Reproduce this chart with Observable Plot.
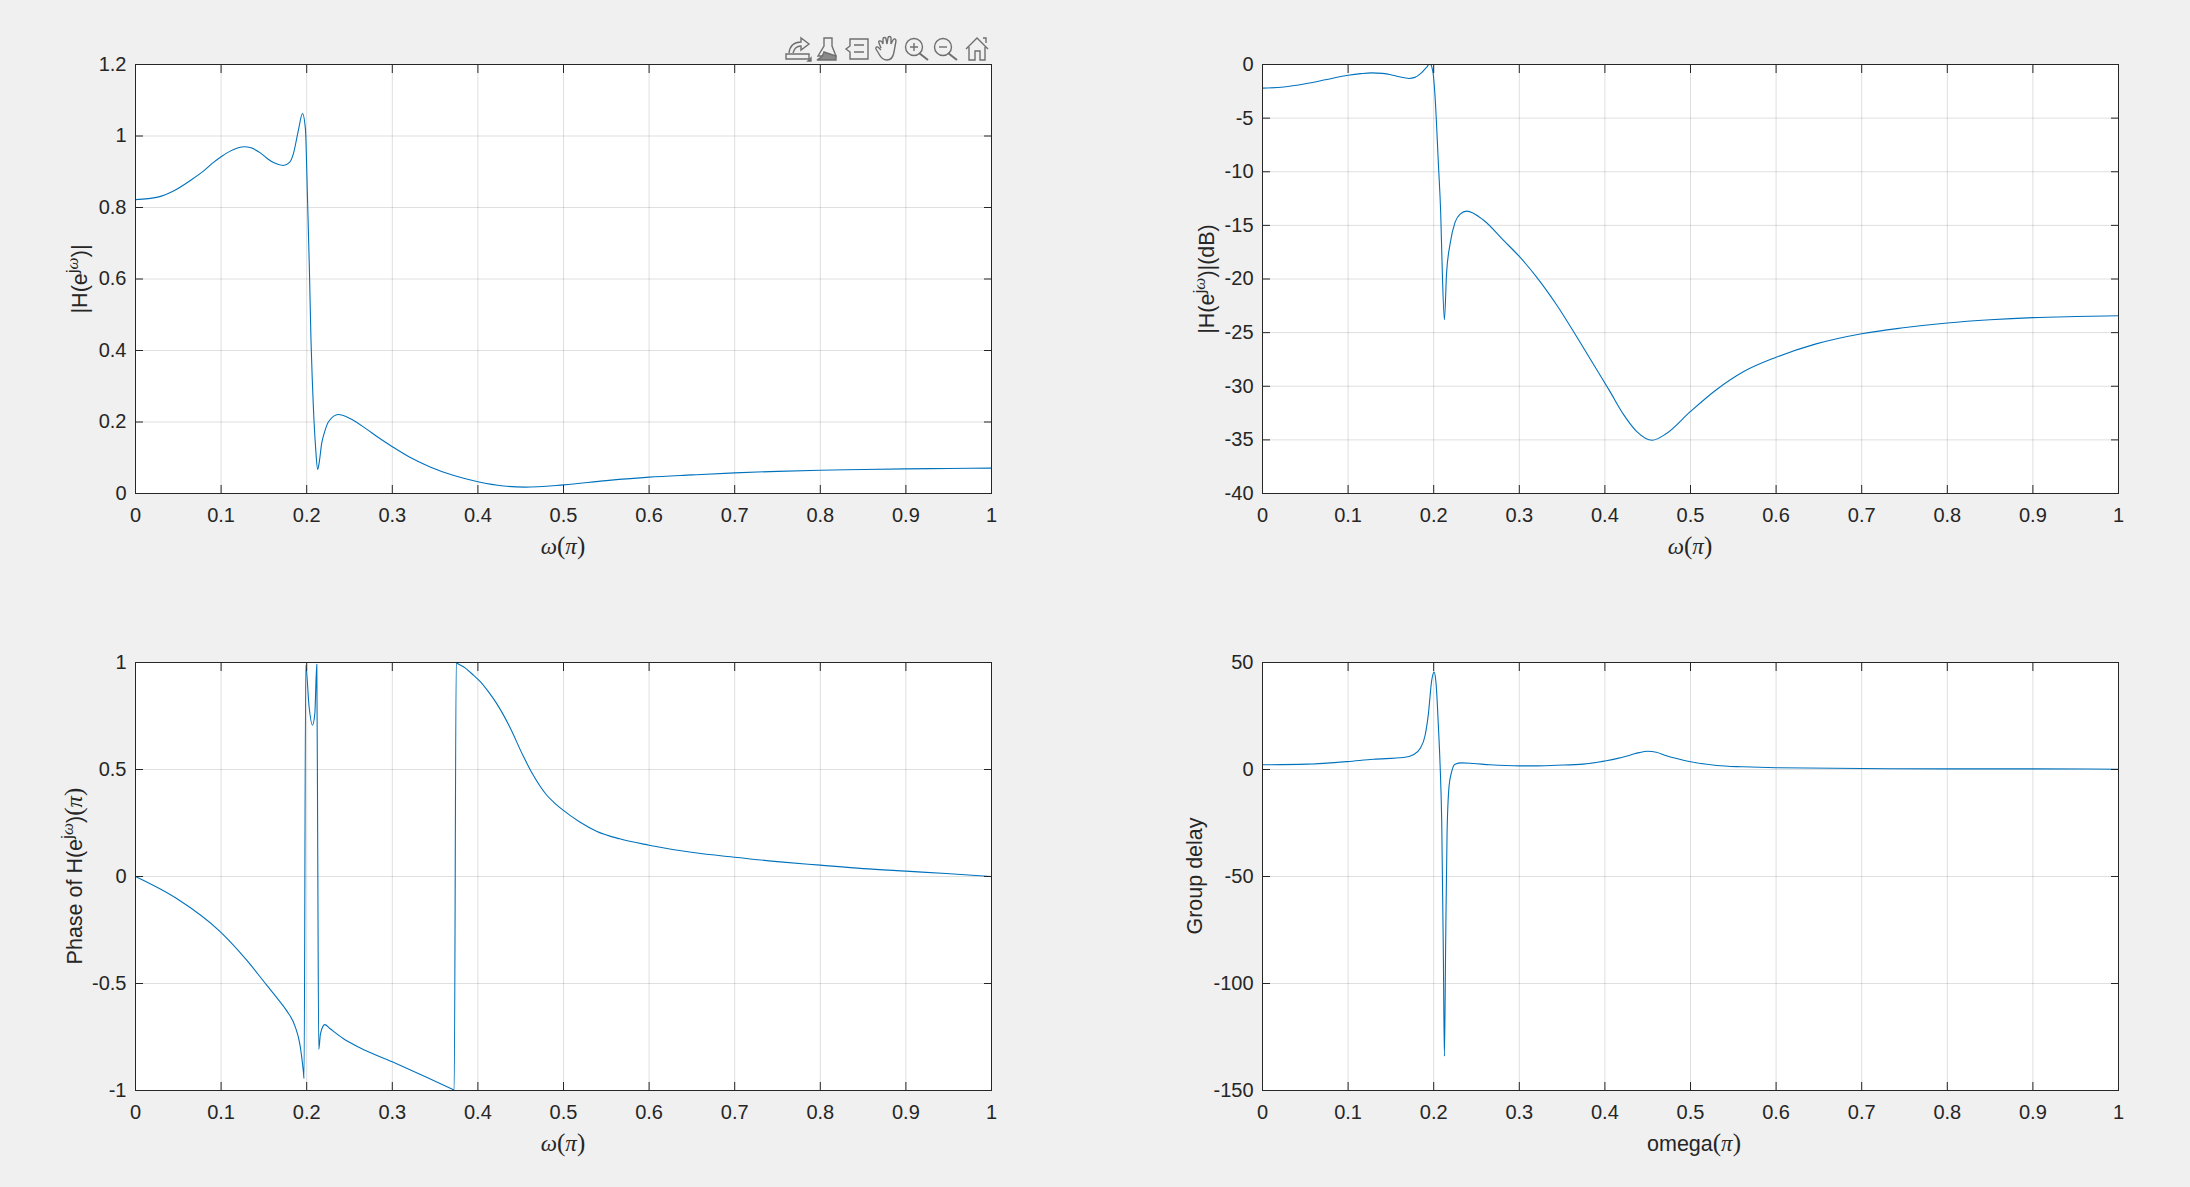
<!DOCTYPE html>
<html>
<head>
<meta charset="utf-8">
<script src="https://cdn.jsdelivr.net/npm/d3@7"></script>
<script src="https://cdn.jsdelivr.net/npm/@observablehq/plot@0.6"></script>
<style>
html,body{margin:0;padding:0;background:#f0f0f0;width:2190px;height:1187px;overflow:hidden}
#page{position:relative;width:2190px;height:1187px;font-family:"Liberation Sans",Arial,sans-serif;color:#262626}
.lab{position:absolute;white-space:nowrap;font-size:21.5px;line-height:1}
.lab.v{transform:translate(-50%,-50%) rotate(-90deg)}
.lab.h{transform:translate(-50%,-50%)}
.m{font-family:"Liberation Serif",serif;font-style:italic;font-size:23px}
.p{font-family:"Liberation Serif",serif;font-size:25px}
sup{font-size:.8em;line-height:0;vertical-align:baseline;position:relative;top:-.55em}
#tools{position:absolute;left:780px;top:32px}
</style>
</head>
<body>
<div id="page"></div>
<script>
const xTicks = [0,0.1,0.2,0.3,0.4,0.5,0.6,0.7,0.8,0.9,1];
const magTicks = [0,0.2,0.4,0.6,0.8,1,1.2];
const dbTicks = [-40,-35,-30,-25,-20,-15,-10,-5,0];
const phaseTicks = [-1,-0.5,0,0.5,1];
const delayTicks = [-150,-100,-50,0,50];

const magX = [0,0.026,0.0455,0.065,0.08,0.09,0.1,0.11,0.12,0.1268,0.135,0.1463,0.155,0.1619,0.1727,0.18,0.1844,0.1902,0.1951,0.1985,0.2007,0.2031,0.205,0.2065,0.2078,0.2105,0.2128,0.2145,0.2175,0.2214,0.2253,0.237,0.2506,0.27,0.2816,0.3,0.32,0.3435,0.371,0.4,0.43,0.455,0.5,0.55,0.6,0.65,0.7,0.75,0.8,0.85,0.9,0.95,1];
const magY = [0.822,0.829,0.8475,0.877,0.903,0.924,0.942,0.957,0.967,0.97,0.967,0.952,0.935,0.925,0.9175,0.926,0.95,1.015,1.063,1.02,0.847,0.633,0.43,0.32,0.241,0.125,0.067,0.085,0.14,0.176,0.2,0.221,0.21,0.18,0.16,0.131,0.102,0.075,0.051,0.033,0.021,0.0177,0.0242,0.036,0.0457,0.052,0.0578,0.062,0.065,0.067,0.069,0.07,0.071];

const dbX = [0,0.025,0.05,0.075,0.1,0.115,0.1275,0.14,0.15,0.16,0.171,0.178,0.1846,0.19,0.1938,0.1952,0.197,0.1996,0.2016,0.2055,0.2082,0.2101,0.2125,0.215,0.2192,0.225,0.2309,0.2386,0.258,0.2816,0.3,0.32,0.3435,0.371,0.39,0.406,0.4215,0.437,0.4553,0.472,0.5,0.5306,0.5617,0.6,0.6467,0.7,0.7486,0.8,0.85,0.9,0.95,1];
const dbY = [-2.2,-2.1,-1.8,-1.4,-1.0,-0.85,-0.78,-0.83,-0.95,-1.15,-1.3,-1.2,-0.85,-0.4,0,0.5,0,-1,-3,-9.3,-13.9,-19.5,-23.8,-19.5,-16.7,-14.7,-13.95,-13.67,-14.5,-16.4,-17.9,-19.8,-22.4,-25.9,-28.4,-30.5,-32.6,-34.2,-35.03,-34.4,-32.35,-30.3,-28.65,-27.3,-26.05,-25.1,-24.55,-24.1,-23.8,-23.6,-23.5,-23.43];

const phaseX = [0,0.0481,0.0992,0.1299,0.1533,0.165,0.1767,0.1864,0.1923,0.1962,0.1969,0.1989,0.2028,0.2067,0.2095,0.2118,0.2128,0.2141,0.2161,0.2212,0.227,0.2426,0.2621,0.3,0.34,0.3715,0.3723,0.3747,0.3755,0.385,0.395,0.4025,0.412,0.422,0.4371,0.4527,0.4644,0.48,0.49,0.4995,0.519,0.5385,0.5657,0.6,0.6514,0.7,0.753,0.8,0.85,0.9,0.947,1];
const phaseY = [0,-0.103,-0.2586,-0.391,-0.508,-0.566,-0.628,-0.7,-0.79,-0.915,-0.944,0.9875,0.793,0.707,0.762,0.992,0.2,-0.808,-0.734,-0.692,-0.71,-0.757,-0.8,-0.866,-0.938,-0.9965,-0.998,1,0.9975,0.975,0.94,0.912,0.865,0.808,0.7,0.565,0.475,0.382,0.342,0.31,0.255,0.212,0.176,0.1464,0.112,0.09,0.0685,0.053,0.037,0.025,0.014,0];

const delayX = [0,0.0518,0.0992,0.1296,0.1646,0.1763,0.1841,0.19,0.1938,0.1977,0.2004,0.2028,0.2055,0.2074,0.2094,0.2113,0.2125,0.214,0.2156,0.2179,0.221,0.2249,0.2327,0.2463,0.2658,0.3004,0.3164,0.3436,0.3748,0.4,0.415,0.43,0.44,0.45,0.46,0.47,0.485,0.5,0.5306,0.5617,0.6,0.7,0.8,0.9,1];
const delayY = [2.2,2.5,3.7,4.8,5.6,6.9,9.8,16,26,41.7,45.5,40,20,2.8,-25,-87.5,-134,-80,-30,-8,-1,2.5,3.1,2.8,2.2,1.7,1.7,2,2.5,4,5.2,6.8,7.9,8.5,8.1,6.7,5,3.6,1.9,1.25,0.8,0.45,0.3,0.3,0.15];

const ink = "#262626", lineColor = "#0072BD", fontPx = 20;
const page = document.getElementById("page");

function panel(xs, ys, yDomain, yTicks, left, top, right, bottom) {
  const pad = {l: 110, r: 40, t: 24, b: 54};
  const innerW = right - left, innerH = bottom - top;
  const fmt = d => String(d);
  const svg = Plot.plot({
    width: innerW + pad.l + pad.r,
    height: innerH + pad.t + pad.b,
    marginLeft: pad.l, marginRight: pad.r, marginTop: pad.t, marginBottom: pad.b,
    x: {domain: [0, 1], ticks: xTicks, label: null},
    y: {domain: yDomain, ticks: yTicks, label: null},
    style: {background: "transparent", color: ink, fontFamily: '"Liberation Sans",Arial,sans-serif', fontSize: fontPx + "px", overflow: "visible"},
    marks: [
      () => {
        const r = document.createElementNS("http://www.w3.org/2000/svg", "rect");
        r.setAttribute("x", pad.l + 0.5); r.setAttribute("y", pad.t + 0.5);
        r.setAttribute("width", innerW); r.setAttribute("height", innerH);
        r.setAttribute("fill", "#fff");
        return r;
      },
      Plot.gridX(xTicks.slice(1, -1), {stroke: ink, strokeOpacity: 0.15, strokeWidth: 1}),
      Plot.gridY(yTicks, {stroke: ink, strokeOpacity: 0.15, strokeWidth: 1}),
      Plot.line(ys, {x: xs, y: ys, stroke: lineColor, strokeWidth: 1.1, curve: "monotone-x", clip: true}),
      Plot.axisX({anchor: "bottom", ticks: xTicks, tickSize: -8, tickPadding: 0, tickFormat: () => "", label: null, stroke: ink}),
      Plot.axisX({anchor: "top", ticks: xTicks, tickSize: -8, tickPadding: 0, tickFormat: () => "", label: null, stroke: ink}),
      Plot.axisY({anchor: "left", ticks: yTicks, tickSize: -8, tickPadding: 0, tickFormat: () => "", label: null, stroke: ink}),
      Plot.axisY({anchor: "right", ticks: yTicks, tickSize: -8, tickPadding: 0, tickFormat: () => "", label: null, stroke: ink}),
      Plot.axisX({anchor: "bottom", ticks: xTicks, tickSize: 0, tickPadding: 14, tickFormat: fmt, label: null, fill: ink}),
      Plot.axisY({anchor: "left", ticks: yTicks, tickSize: 0, tickPadding: 9, tickFormat: fmt, label: null, fill: ink}),
      Plot.frame({stroke: ink, strokeWidth: 1})
    ]
  });
  svg.style.position = "absolute";
  svg.style.left = (left - pad.l) + "px";
  svg.style.top = (top - pad.t) + "px";
  page.appendChild(svg);
}

function label(html, x, y, vertical) {
  const d = document.createElement("div");
  d.className = "lab " + (vertical ? "v" : "h");
  d.style.left = x + "px";
  d.style.top = y + "px";
  d.innerHTML = html;
  page.appendChild(d);
}

panel(magX, magY, [0, 1.2], magTicks, 135, 64, 991, 493);
panel(dbX, dbY, [-40, 0], dbTicks, 1262, 64, 2118, 493);
panel(phaseX, phaseY, [-1, 1], phaseTicks, 135, 662, 991, 1090);
panel(delayX, delayY, [-150, 50], delayTicks, 1262, 662, 2118, 1090);

const W = '<span class="m">ω</span><span class="p">(</span><span class="m">π</span><span class="p">)</span>';
const JW = '<sup>j<span class="m" style="font-size:1em">ω</span></sup>';
label(W, 563, 546, false);
label(W, 1690, 546, false);
label(W, 563, 1143, false);
label('omega' + '<span class="p">(</span><span class="m">π</span><span class="p">)</span>', 1694, 1143, false);
label('|H(e' + JW + ')|', 81, 278.5, true);
label('|H(e' + JW + ')|(dB)', 1208, 278.5, true);
label('Phase of H(e' + JW + ')<span class="p">(</span><span class="m">π</span><span class="p">)</span>', 74, 876, true);
label('Group delay', 1196, 876, true);

const tools = document.createElement("div");
tools.id = "tools";
tools.innerHTML = `<svg width="215" height="32" viewBox="0 0 215 32" fill="none" stroke="#6f6f6f" stroke-width="1.4">
<path d="M6 22 L16 22 L29 22 L29 27 L6 27 Z"/><path d="M9 21 C10 13 15 10 21 10 L21 6 L29 12 L21 18 L21 14 C16 14 14 17 13 21"/><path d="M28 29 L31 29 L31 26 Z" fill="#6f6f6f"/>
<path d="M44 6 L52 6 L52 14 L56 24 L38 24 L44 14 Z"/><path d="M37 28 C41 26 43 24 44 20 L56 24 L56 28 Z" fill="#8a8a8a"/>
<path d="M70 7 L88 7 L88 27 L70 27 L70 20 L66 17 L70 14 Z"/><path d="M74 13 L84 13 M74 20 L84 20"/>
<path d="M101 16 L99 11 C98 9 100 8 102 10 L103 12 L103 7 C103 5 106 5 106 7 L107 12 L108 6 C108 4 111 4 111 6 L111 12 L113 8 C114 6 116 7 116 9 L114 20 C113 26 110 28 107 28 C103 28 101 26 99 22 L96 17 C95 15 98 14 99 16 L101 18"/>
<circle cx="134" cy="15" r="8.5"/><path d="M139 21 L148 28" stroke-width="2"/><path d="M130 15 L138 15 M134 11 L134 19"/>
<circle cx="163" cy="15" r="8.5"/><path d="M168 21 L177 28" stroke-width="2"/><path d="M159 15 L167 15"/>
<path d="M186 17 L197 6 L208 17"/><path d="M189 15 L189 28 L195 28 L195 19 L200 19 L200 28 L205 28 L205 15"/><path d="M203 6 L206 6 L206 11"/>
</svg>`;
page.appendChild(tools);
</script>
</body>
</html>
